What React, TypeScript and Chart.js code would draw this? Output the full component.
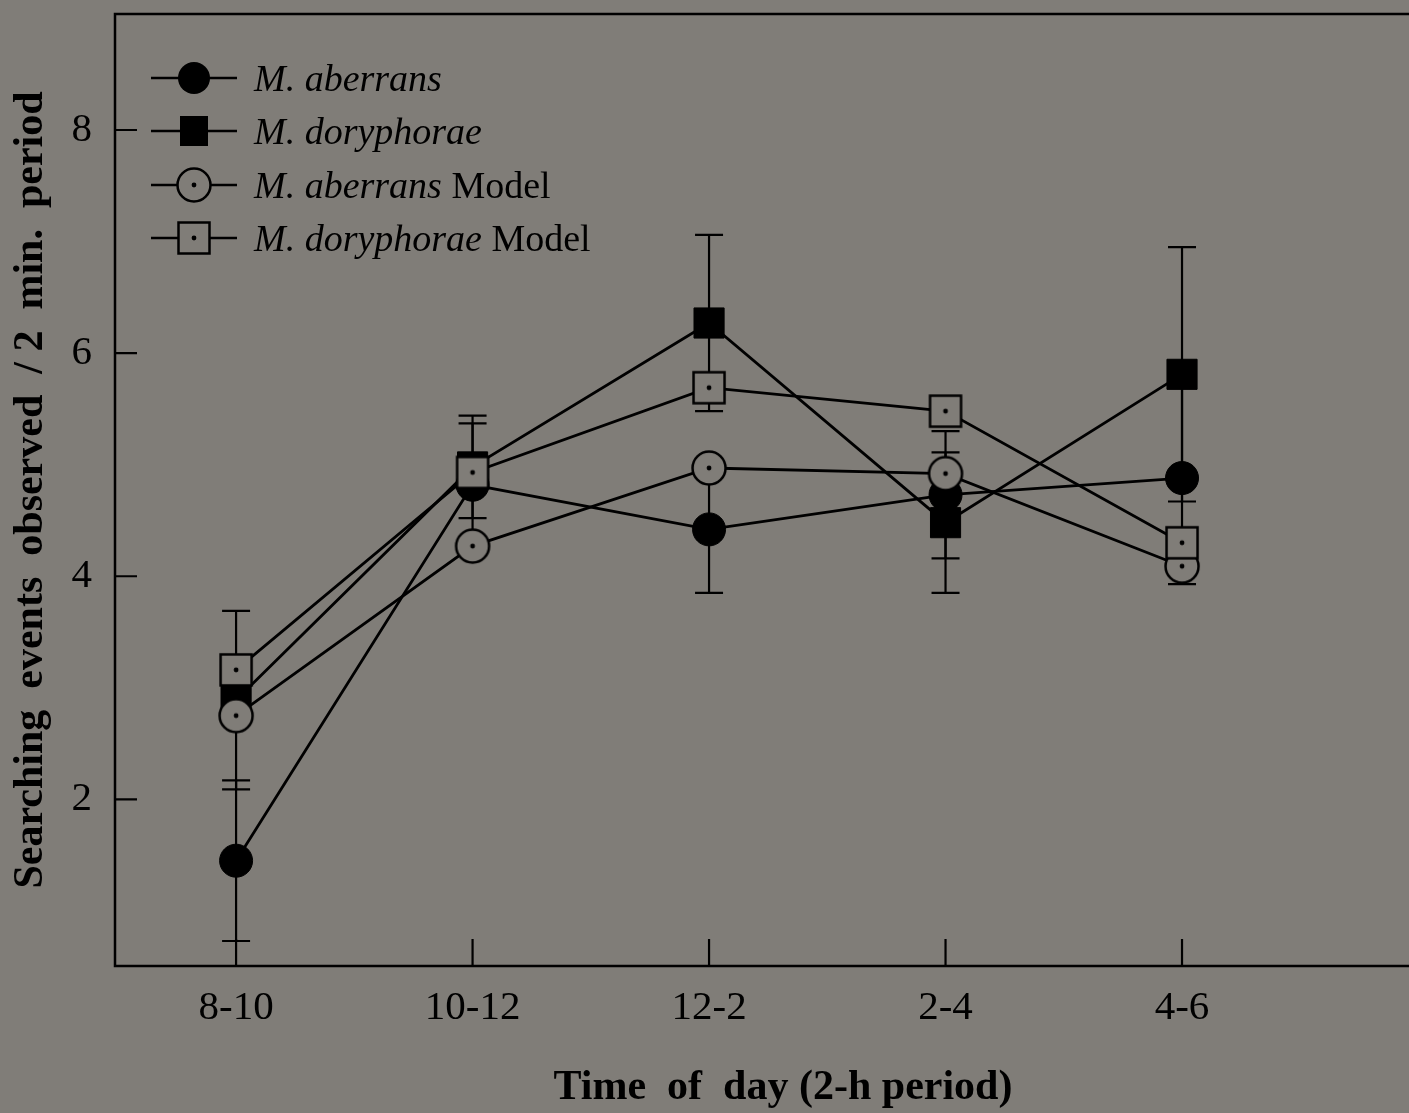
import React, { useEffect, useRef } from 'react';
import { Chart, registerables } from 'chart.js';

Chart.register(...registerables);

// ---- data ----
const categories = ['8-10', '10-12', '12-2', '2-4', '4-6'];
const aberrans = [1.45, 4.82, 4.42, 4.73, 4.88];
const aberransErr = [0.72, 0.55, 0.57, 0.57, 0.95];
const doryphorae = [2.89, 4.98, 6.27, 4.48, 5.81];
const doryphoraeErr = [0.8, 0.46, 0.79, 0.63, 1.14];
const aberransModel = [2.75, 4.27, 4.97, 4.92, 4.09];
const doryphoraeModel = [3.16, 4.93, 5.69, 5.48, 4.3];
const yTicks = [2, 4, 6, 8];
const legendItalic = ['M. aberrans', 'M. doryphorae', 'M. aberrans', 'M. doryphorae'];
const legendRegular = ['', '', ' Model', ' Model'];

const VIEW_W = 1409;
const CANVAS_W = 1451;
const H = 1113;
const BG = '#807d78';
const FONT = '"Liberation Serif", "Times New Roman", serif';

function makeMarker(kind: 'circle' | 'square', half: number): HTMLCanvasElement {
  const s = 40;
  const c = document.createElement('canvas');
  c.width = s;
  c.height = s;
  const g = c.getContext('2d')!;
  const m = s / 2;
  g.fillStyle = BG;
  g.strokeStyle = '#000';
  g.lineWidth = 2.5;
  g.beginPath();
  if (kind === 'circle') g.arc(m, m, half, 0, Math.PI * 2);
  else g.rect(m - half, m - half, 2 * half, 2 * half);
  g.fill();
  g.stroke();
  g.fillStyle = '#000';
  g.beginPath();
  g.arc(m, m, 2.4, 0, Math.PI * 2);
  g.fill();
  return c;
}

export default function App() {
  const ref = useRef<HTMLCanvasElement>(null);

  useEffect(() => {
    document.body.style.margin = '0';
    document.body.style.background = BG;
    const canvas = ref.current!;
    const circleModel = makeMarker('circle', 16.5);
    const squareModel = makeMarker('square', 15.5);
    const pts = (arr: number[]) => arr.map((y, i) => ({ x: i, y }));

    const decor = {
      id: 'decor',
      beforeDraw(chart: any) {
        const { ctx } = chart;
        ctx.save();
        ctx.fillStyle = BG;
        ctx.fillRect(0, 0, chart.width, chart.height);
        ctx.restore();
      },
      beforeDatasetsDraw(chart: any) {
        const { ctx } = chart;
        const yS = chart.scales.y;
        ctx.save();
        ctx.strokeStyle = '#000';
        ctx.lineWidth = 2.2;
        chart.data.datasets.forEach((ds: any, di: number) => {
          if (!ds.errorBars) return;
          const meta = chart.getDatasetMeta(di);
          ds.data.forEach((p: any, i: number) => {
            const e = ds.errorBars[i];
            const x = meta.data[i].x;
            const y1 = yS.getPixelForValue(p.y + e);
            const y2 = yS.getPixelForValue(p.y - e);
            ctx.beginPath();
            ctx.moveTo(x, y1);
            ctx.lineTo(x, y2);
            ctx.moveTo(x - 14, y1);
            ctx.lineTo(x + 14, y1);
            ctx.moveTo(x - 14, y2);
            ctx.lineTo(x + 14, y2);
            ctx.stroke();
          });
        });
        ctx.restore();
      },
      afterDraw(chart: any) {
        const { ctx, chartArea: a } = chart;
        const xS = chart.scales.x;
        const yS = chart.scales.y;
        ctx.save();
        ctx.strokeStyle = '#000';
        ctx.lineWidth = 2.5;
        ctx.beginPath();
        ctx.moveTo(a.right, a.top);
        ctx.lineTo(a.left, a.top);
        ctx.lineTo(a.left, a.bottom);
        ctx.lineTo(a.right, a.bottom);
        ctx.stroke();
        ctx.lineWidth = 2.2;
        ctx.beginPath();
        yTicks.forEach((v) => {
          const y = yS.getPixelForValue(v);
          ctx.moveTo(a.left, y);
          ctx.lineTo(a.left + 22, y);
        });
        categories.forEach((_, i) => {
          const x = xS.getPixelForValue(i);
          ctx.moveTo(x, a.bottom);
          ctx.lineTo(x, a.bottom - 27);
        });
        ctx.stroke();

        // legend
        const rows = [78, 131, 185, 238];
        rows.forEach((ry, i) => {
          ctx.strokeStyle = '#000';
          ctx.lineWidth = 2.5;
          ctx.beginPath();
          ctx.moveTo(151, ry);
          ctx.lineTo(237, ry);
          ctx.stroke();
          const mx = 194;
          ctx.fillStyle = '#000';
          if (i === 0) {
            ctx.beginPath();
            ctx.arc(mx, ry, 16, 0, Math.PI * 2);
            ctx.fill();
          } else if (i === 1) {
            ctx.fillRect(mx - 14, ry - 15, 28, 30);
          } else {
            const img = i === 2 ? circleModel : squareModel;
            ctx.drawImage(img, mx - 20, ry - 20);
          }
          ctx.fillStyle = '#000';
          ctx.textBaseline = 'alphabetic';
          ctx.textAlign = 'left';
          ctx.font = `italic 38px ${FONT}`;
          ctx.fillText(legendItalic[i], 254, ry + 13);
          const w = ctx.measureText(legendItalic[i]).width;
          if (legendRegular[i]) {
            ctx.font = `38px ${FONT}`;
            ctx.fillText(legendRegular[i], 254 + w, ry + 13);
          }
        });
        ctx.restore();
      },
    };

    const lineCommon = {
      borderColor: '#000',
      borderWidth: 2.8,
      tension: 0,
      fill: false,
      pointBorderColor: '#000',
    };

    const zeroPad = (s: any) => {
      s.paddingTop = 0;
      s.paddingBottom = 0;
      s.paddingLeft = 0;
      s.paddingRight = 0;
    };

    const chart = new Chart(canvas, {
      type: 'line',
      data: {
        datasets: [
          {
            ...lineCommon,
            label: 'M. aberrans',
            data: pts(aberrans),
            errorBars: aberransErr,
            pointStyle: 'circle',
            pointRadius: 16.5,
            pointBackgroundColor: '#000',
            pointBorderWidth: 1,
            order: 2,
          } as any,
          {
            ...lineCommon,
            label: 'M. doryphorae',
            data: pts(doryphorae),
            errorBars: doryphoraeErr,
            pointStyle: 'rect',
            pointRadius: 21.3,
            pointBackgroundColor: '#000',
            pointBorderWidth: 1,
            order: 3,
          } as any,
          {
            ...lineCommon,
            label: 'M. aberrans Model',
            data: pts(aberransModel),
            pointStyle: circleModel,
            pointRadius: 17,
            order: 1,
          } as any,
          {
            ...lineCommon,
            label: 'M. doryphorae Model',
            data: pts(doryphoraeModel),
            pointStyle: squareModel,
            pointRadius: 17,
            order: 0,
          } as any,
        ],
      },
      options: {
        animation: false,
        responsive: false,
        devicePixelRatio: 1,
        layout: { autoPadding: false, padding: { top: 14, left: 0, right: 0, bottom: 0 } },
        plugins: { legend: { display: false }, tooltip: { enabled: false } },
        scales: {
          x: {
            type: 'linear',
            min: -0.512,
            max: (CANVAS_W - 236) / 236.5,
            afterBuildTicks: (s: any) => {
              s.ticks = categories.map((_, i) => ({ value: i }));
            },
            afterFit: (s: any) => {
              s.height = H - 966;
              zeroPad(s);
            },
            ticks: {
              callback: (v: any) => categories[v] ?? '',
              font: { family: FONT, size: 41 },
              color: '#000',
              padding: 18,
              autoSkip: false,
              maxRotation: 0,
            },
            grid: { display: false, drawTicks: false },
            border: { display: false },
            title: {
              display: true,
              text: 'Time  of  day (2-h period)',
              font: { family: FONT, size: 42, weight: 'bold' },
              color: '#000',
              padding: { top: 0, bottom: 0 },
            },
          },
          y: {
            type: 'linear',
            min: 0.506,
            max: 9.04,
            afterBuildTicks: (s: any) => {
              s.ticks = yTicks.map((v) => ({ value: v }));
            },
            afterFit: (s: any) => {
              s.width = 115;
              zeroPad(s);
            },
            ticks: {
              font: { family: FONT, size: 41 },
              color: '#000',
              padding: 23,
            },
            grid: { display: false, drawTicks: false },
            border: { display: false },
            title: {
              display: true,
              text: 'Searching  events  observed  / 2  min.  period',
              font: { family: FONT, size: 42, weight: 'bold' },
              color: '#000',
              padding: { top: 6, bottom: 0 },
            },
          },
        },
      } as any,
      plugins: [decor],
    });
    return () => chart.destroy();
  }, []);

  return (
    <div style={{ width: VIEW_W, height: H, overflow: 'hidden', background: BG }}>
      <canvas ref={ref} width={CANVAS_W} height={H} style={{ display: 'block', width: CANVAS_W, height: H }} />
    </div>
  );
}
